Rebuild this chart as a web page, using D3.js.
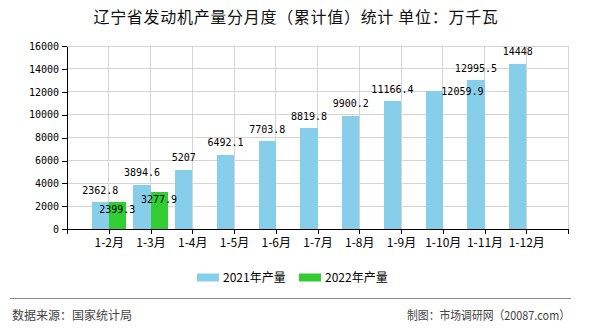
<!DOCTYPE html>
<html>
<head>
<meta charset="utf-8">
<script src="https://cdn.jsdelivr.net/npm/d3@7"></script>
<style>
  html, body { margin: 0; padding: 0; background: #fff; }
  svg { display: block; }
</style>
</head>
<body>
<svg id="chart" width="590" height="330"></svg>
<script>
const title = "辽宁省发动机产量分月度（累计值）统计 单位：万千瓦";
const categories = ["1-2月", "1-3月", "1-4月", "1-5月", "1-6月", "1-7月", "1-8月", "1-9月", "1-10月", "1-11月", "1-12月"];
const values2021 = [2362.8, 3894.6, 5207, 6492.1, 7703.8, 8819.8, 9900.2, 11166.4, 12059.9, 12995.5, 14448];
const values2022 = [2399.3, 3277.9, null, null, null, null, null, null, null, null, null];
const seriesNames = ["2021年产量", "2022年产量"];
const seriesColors = ["#87CEEB", "#32CD32"];
const yTicks = [0, 2000, 4000, 6000, 8000, 10000, 12000, 14000, 16000];
const sourceText = "数据来源：国家统计局";
const creditText = "制图：市场调研网（20087.com）";

const svg = d3.select("#chart");
const plotLeft = 67, plotRight = 568, plotTop = 46, plotBottom = 229.3;
const cjk = "'Noto Sans CJK SC', 'Noto Sans', sans-serif";
const mono = "'DejaVu Sans Mono', monospace";

const x = d3.scalePoint().domain(categories).range([plotLeft, plotRight]).padding(1);
const y = d3.scaleLinear().domain([0, 16000]).range([plotBottom, plotTop]);
const barW = x.step() * 0.41;

// title
svg.append("text").attr("x", 296).attr("y", 17).attr("dy", "0.35em")
  .attr("text-anchor", "middle").attr("font-family", cjk).attr("font-size", 16)
  .attr("letter-spacing", 0.7).attr("fill", "#111").text(title);

// grid
const grid = svg.append("g").attr("stroke", "#d4d4d4").attr("stroke-width", 1).attr("shape-rendering", "crispEdges");
grid.selectAll("line.h").data(yTicks.filter(d => d > 0)).join("line")
  .attr("x1", plotLeft).attr("x2", plotRight).attr("y1", d => y(d)).attr("y2", d => y(d));
grid.selectAll("line.v").data(categories.map(c => x(c)).concat([plotRight])).join("line")
  .attr("x1", d => d).attr("x2", d => d).attr("y1", plotTop).attr("y2", plotBottom);

// bars
const bars = svg.append("g").attr("shape-rendering", "crispEdges");
bars.selectAll("rect.s1").data(values2021).join("rect")
  .attr("x", (d, i) => x(categories[i]) - barW).attr("width", barW)
  .attr("y", d => y(d)).attr("height", d => y(0) - y(d)).attr("fill", seriesColors[0]);
bars.selectAll("rect.s2").data(values2022.map((v, i) => ({v, i})).filter(d => d.v != null)).join("rect")
  .attr("x", d => x(categories[d.i])).attr("width", barW)
  .attr("y", d => y(d.v)).attr("height", d => y(0) - y(d.v)).attr("fill", seriesColors[1]);

// axes
const yAxis = svg.append("g").attr("transform", `translate(${plotLeft},0)`)
  .call(d3.axisLeft(y).tickValues(yTicks).tickFormat(d3.format("d")).tickSize(5).tickSizeOuter(0).tickPadding(3));
yAxis.selectAll("text").attr("font-family", mono).attr("font-size", 10).attr("fill", "#000");
const xAxis = svg.append("g").attr("transform", `translate(0,${plotBottom})`)
  .call(d3.axisBottom(x).tickSize(5).tickSizeOuter(5).tickPadding(4));
xAxis.selectAll("text").attr("font-family", cjk).attr("font-size", 12).attr("fill", "#000");
svg.selectAll(".domain, .tick line").attr("stroke", "#000").attr("shape-rendering", "crispEdges");

// labels (simple collision avoidance, processed right to left)
const fmt = v => String(v);
const labW = s => s.length * 6.02;
const blueLabels = values2021.map((v, i) => {
  const s = fmt(v);
  return {s, cx: x(categories[i]) - barW / 2, cy: y(v) - 12, w: labW(s)};
});
for (let i = blueLabels.length - 2; i >= 0; i--) {
  const a = blueLabels[i], b = blueLabels[i + 1];
  const overlapX = (a.cx + a.w / 2) > (b.cx - b.w / 2);
  const overlapY = Math.abs(a.cy - b.cy) < 12;
  if (overlapX && overlapY) { a.cx += a.w * 0.67; a.cy += 12; }
}
const lab = svg.append("g").attr("font-family", mono).attr("font-size", 10).attr("fill", "#000").attr("text-anchor", "middle");
lab.selectAll("text.b").data(blueLabels).join("text")
  .attr("x", d => d.cx).attr("y", d => d.cy).attr("dy", "0.35em").text(d => d.s);
lab.selectAll("text.g").data(values2022.map((v, i) => ({v, i})).filter(d => d.v != null)).join("text")
  .attr("x", d => x(categories[d.i]) + barW / 2).attr("y", d => y(d.v) + 8).attr("dy", "0.35em").text(d => fmt(d.v));

// legend
const legend = svg.append("g");
seriesNames.forEach((name, i) => {
  const lx = 197 + i * 102;
  legend.append("rect").attr("x", lx).attr("y", 273.5).attr("width", 22).attr("height", 8).attr("fill", seriesColors[i]);
  legend.append("text").attr("x", lx + 26).attr("y", 277.5).attr("dy", "0.35em")
    .attr("font-family", cjk).attr("font-size", 12).attr("fill", "#000").text(name);
});

// footer
svg.append("line").attr("x1", 10).attr("x2", 571).attr("y1", 298).attr("y2", 298)
  .attr("stroke", "#888").attr("stroke-width", 1).attr("shape-rendering", "crispEdges");
svg.append("text").attr("x", 12).attr("y", 316).attr("dy", "0.35em")
  .attr("font-family", cjk).attr("font-size", 12).attr("fill", "#444").text(sourceText);
svg.append("text").attr("x", 570).attr("y", 316).attr("dy", "0.35em").attr("text-anchor", "end")
  .attr("font-family", cjk).attr("font-size", 12).attr("fill", "#444")
  .attr("textLength", 163).attr("lengthAdjust", "spacingAndGlyphs").text(creditText);
</script>
</body>
</html>
